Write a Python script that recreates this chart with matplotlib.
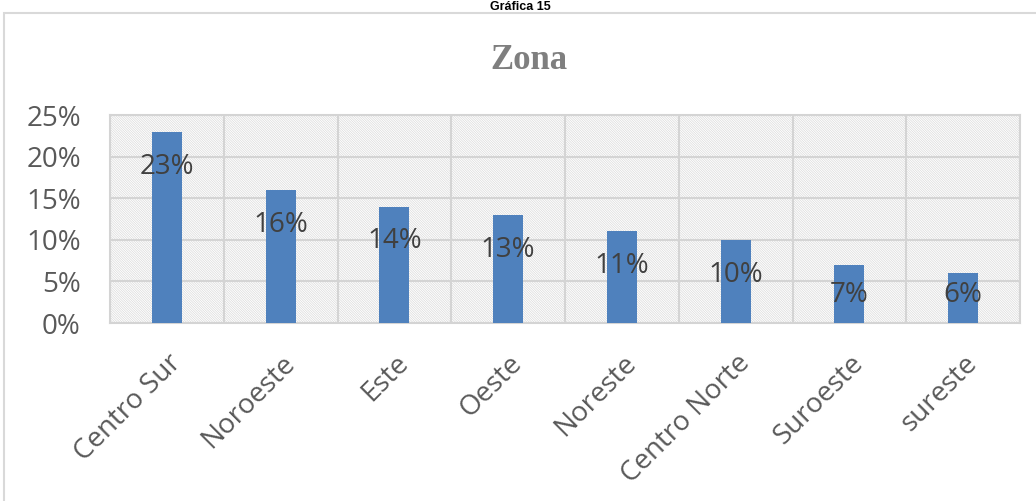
import matplotlib
matplotlib.use("Agg")
import matplotlib.pyplot as plt
from matplotlib.patches import Rectangle
import numpy as np

categories = ["Centro Sur", "Noroeste", "Este", "Oeste", "Noreste", "Centro Norte", "Suroeste", "sureste"]
values = [0.23, 0.16, 0.14, 0.13, 0.11, 0.10, 0.07, 0.06]
yticks = [0, 0.05, 0.10, 0.15, 0.20, 0.25]
ytick_labels = ["0%", "5%", "10%", "15%", "20%", "25%"]

W, H = 1036, 501
plt.rcParams['hatch.color'] = '#dadada'
plt.rcParams['hatch.linewidth'] = 0.5
fig = plt.figure(figsize=(W/100, H/100), dpi=100)

# outer chart frame
fig.patches.append(Rectangle((4/W, -0.1), 1.2, 1 - 13/H + 0.1, transform=fig.transFigure,
                             fill=False, edgecolor='#d9d9d9', linewidth=1.5))

# heading above the chart frame
fig.text(520/W, 1 - 10/H, "Gráfica 15", ha='center', va='baseline', fontsize=9,
         fontweight='bold', family='Liberation Sans', color='black')

# chart title
fig.text(529/W, 1 - 69/H, "Zona", ha='center', va='baseline', fontsize=25,
         fontweight='bold', family='Liberation Serif', color='#7f7f7f')

ax = fig.add_axes([110/W, 1 - 323/H, (1020 - 110)/W, (323 - 115)/H])
ax.patch.set_facecolor('white')
ax.patch.set_hatch('\\' * 14)
ax.patch.set_edgecolor('#dadada')
ax.patch.set_linewidth(0)

x = np.arange(len(categories))
ax.bar(x, values, width=0.264, color='#4f81bd', zorder=3)
ax.set_xlim(-0.5, len(categories) - 0.5)
ax.set_ylim(0, 0.25)

ax.set_yticks(yticks)
ax.set_yticklabels(ytick_labels, family='Open Sans', fontsize=20, color='#595959')
ax.set_xticks(x)
ax.set_xticklabels(categories, family='Open Sans', fontsize=20, color='#595959',
                   rotation=45, ha='right', va='top', rotation_mode='anchor')
ax.set_xticks(np.arange(len(categories) + 1) - 0.5, minor=True)
ax.tick_params(axis='y', length=0, pad=21)
ax.tick_params(axis='x', which='both', length=0, pad=19)
ax.grid(axis='y', which='major', color='#d4d4d4', linewidth=1.5, zorder=1)
ax.grid(axis='x', which='minor', color='#d4d4d4', linewidth=1.5, zorder=1)
ax.set_axisbelow(True)
for s in ax.spines.values():
    s.set_color('#d4d4d4')
    s.set_linewidth(1.5)

for xi, v in zip(x, values):
    ly = max(v - 0.042, 0.034)
    ax.text(xi, ly, f"{round(v*100)}%", ha='center', va='center', family='Open Sans',
            fontsize=20, color='#404040', zorder=4)

fig.savefig("out.png", dpi=100)
